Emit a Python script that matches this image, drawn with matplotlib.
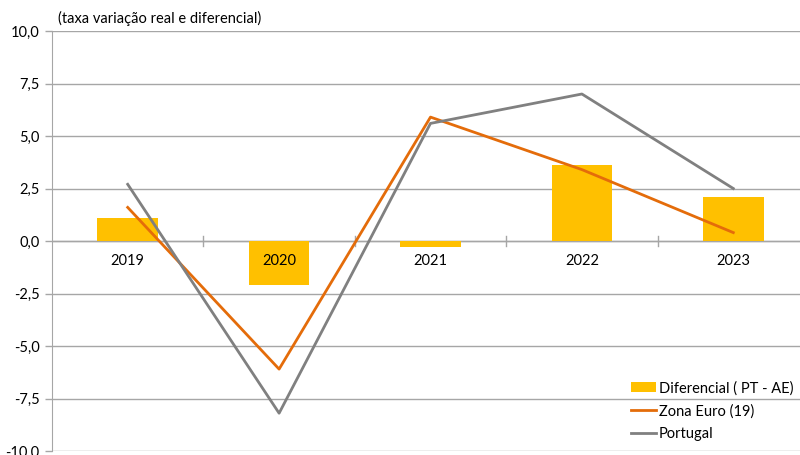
import matplotlib
matplotlib.use("Agg")
import matplotlib.pyplot as plt
from matplotlib.ticker import FuncFormatter

# growth rates (real terms) and the PT minus euro-area differential
years = ["2019", "2020", "2021", "2022", "2023"]
diferencial = [1.1, -2.1, -0.3, 3.6, 2.1]
zona_euro = [1.6, -6.1, 5.9, 3.4, 0.4]
portugal = [2.7, -8.2, 5.6, 7.0, 2.5]
yticks = [-10.0, -7.5, -5.0, -2.5, 0.0, 2.5, 5.0, 7.5, 10.0]

plt.rcParams["font.family"] = ["Lato", "DejaVu Sans"]

fig = plt.figure(figsize=(8, 4.55), dpi=100)
W, H = 800, 455
ax = fig.add_axes([52 / W, 4 / H, 757 / W, 420 / H])

x = range(len(years))
bars = ax.bar(x, diferencial, width=0.4, color="#FFC000", zorder=2,
              label="Diferencial ( PT - AE)")
l_ze, = ax.plot(x, zona_euro, color="#E46C0A", lw=2, zorder=3, label="Zona Euro (19)")
l_pt, = ax.plot(x, portugal, color="#808080", lw=2, zorder=3, label="Portugal")

ax.set_xlim(-0.5, len(years) - 0.5)
ax.set_ylim(-10, 10)
ax.set_yticks(yticks)
ax.yaxis.set_major_formatter(FuncFormatter(lambda v, p: f"{v:.1f}".replace(".", ",")))
ax.tick_params(axis="y", length=5, width=1, color="#A6A6A6", labelsize=10.5, pad=4)
ax.set_xticks([])
ax.grid(axis="y", color="#A6A6A6", lw=1, zorder=0)
for s in ("top", "right", "bottom"):
    ax.spines[s].set_visible(False)
ax.spines["left"].set_color("#A6A6A6")

# category axis drawn at zero with separator ticks
ax.axhline(0, color="#A6A6A6", lw=1, zorder=1)
for b in [i + 0.5 for i in range(len(years))]:
    ax.plot([b, b], [-0.25, 0.25], color="#A6A6A6", lw=1, zorder=1, clip_on=False)
for i, yr in enumerate(years):
    ax.text(i, -0.95, yr, ha="center", va="center", fontsize=10.5, zorder=4)

fig.text(58 / W, 1 - 18 / H, "(taxa variação real e diferencial)",
         ha="left", va="center", fontsize=10.5)

ax.legend(handles=[bars, l_ze, l_pt], loc="lower left",
          bbox_to_anchor=(625 / W, 8 / H),
          bbox_transform=fig.transFigure, frameon=False, fontsize=10.5,
          handlelength=1.7, handletextpad=0.2, labelspacing=0.6,
          borderaxespad=0)

fig.savefig("out.png", dpi=100)
